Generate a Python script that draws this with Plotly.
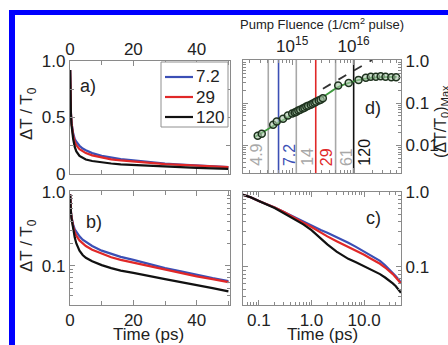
import math
import plotly.graph_objects as go

# ---------------- data ----------------
time_ps = [0.05, 0.07, 0.1, 0.15, 0.2, 0.3, 0.5, 0.7, 1.0, 1.5, 2, 3, 4, 5, 7, 10,
           13, 16, 20, 25, 30, 35, 40, 45, 50]
dt_7p2 = [0.92, 0.85, 0.76, 0.68, 0.62, 0.54, 0.45, 0.40, 0.36, 0.31, 0.285, 0.25,
          0.225, 0.21, 0.185, 0.16, 0.145, 0.132, 0.12, 0.105, 0.093, 0.084, 0.075,
          0.068, 0.062]
dt_29 = [0.92, 0.85, 0.76, 0.68, 0.62, 0.54, 0.45, 0.39, 0.34, 0.285, 0.255, 0.22,
         0.20, 0.185, 0.165, 0.145, 0.13, 0.12, 0.11, 0.098, 0.088, 0.08, 0.072,
         0.066, 0.06]
dt_120 = [0.92, 0.85, 0.76, 0.67, 0.61, 0.52, 0.43, 0.37, 0.31, 0.24, 0.20, 0.16,
          0.14, 0.128, 0.115, 0.102, 0.093, 0.086, 0.08, 0.072, 0.066, 0.06, 0.055,
          0.05, 0.045]
series_names = ["7.2", "29", "120"]
series_values = [dt_7p2, dt_29, dt_120]
series_colors = ["#3b4fb5", "#e02828", "#111111"]

pump_energy = [4.9, 7.2, 14, 29, 61, 120]           # uJ/cm^2
pump_labels = ["4.9", "7.2", "14", "29", "61", "120"]
pump_colors = ["#a8a8a8", "#3b4fb5", "#a8a8a8", "#e02828", "#a8a8a8", "#111111"]
pump_label_side = ["left", "right", "right", "right", "right", "right"]
photons_per_uJ = 1e16 / 120

fluence_pts = [2.75e14, 3.2e14, 4.9e14, 5.6e14, 7.1e14, 8.5e14, 1.0e15, 1.1e15,
               1.17e15, 1.26e15, 1.35e15, 1.48e15, 1.58e15, 1.7e15, 1.82e15, 2.0e15,
               2.14e15, 2.3e15, 2.45e15, 2.7e15, 2.9e15, 3.15e15, 5.6e15, 8.3e15,
               1.2e16, 1.58e16, 1.9e16, 2.3e16, 2.75e16, 3.3e16, 4.1e16, 4.9e16]
peak_pts = [0.017, 0.019, 0.031, 0.037, 0.043, 0.051, 0.057, 0.060, 0.063, 0.067,
            0.070, 0.075, 0.078, 0.083, 0.087, 0.092, 0.097, 0.102, 0.108, 0.115,
            0.120, 0.130, 0.26, 0.30, 0.355, 0.40, 0.42, 0.42, 0.43, 0.42, 0.41, 0.41]
fit_fluence = [2.5e14, 6.3e14, 1.58e15, 3.16e15, 5.6e15, 8.9e15, 1.41e16, 2.5e16, 5.0e16]
fit_peak = [0.016, 0.036, 0.078, 0.14, 0.24, 0.31, 0.37, 0.41, 0.42]
lin_fluence = [3.16e15, 2.0e16]
lin_peak = [0.22, 1.05]

# ---------------- layout helpers ----------------
W, H = 448, 345
def px(x):
    return x / W
def py(y):
    return 1 - y / H

def log_minor(decades):
    return [m * 10.0 ** k for k in decades for m in range(2, 10)]

FONT = "Liberation Sans, Arial, Helvetica, sans-serif"
AX = "#8a8a8a"
TXT = "#222222"
FS = 17

def axis_style(**kw):
    d = dict(showline=True, linecolor=AX, linewidth=1.3, mirror="allticks",
             ticks="inside", ticklen=5, tickcolor=AX, tickwidth=1,
             showgrid=False, zeroline=False, automargin=False,
             tickfont=dict(family=FONT, size=FS, color=TXT))
    d.update(kw)
    return d

def minor(vals=None, ln=3):
    m = dict(ticks="inside", ticklen=ln, tickcolor=AX, tickwidth=1, showgrid=False)
    if vals is not None:
        m["tickmode"] = "array"
        m["tickvals"] = vals
    return m

fig = go.Figure()

# panels a, b, c : decays
for name, vals, col in zip(series_names, series_values, series_colors):
    for xa, ya in (("x", "y"), ("x2", "y2"), ("x3", "y3")):
        fig.add_trace(go.Scatter(x=time_ps, y=vals, mode="lines", name=name,
                                 line=dict(color=col, width=2.2), xaxis=xa, yaxis=ya,
                                 showlegend=False))

# panel d
fig.add_trace(go.Scatter(x=lin_fluence, y=lin_peak, mode="lines",
                         line=dict(color="#333333", width=1.8, dash="dash"),
                         xaxis="x4", yaxis="y4", showlegend=False))
fig.add_trace(go.Scatter(x=fit_fluence, y=fit_peak, mode="lines", line_shape="spline",
                         line=dict(color="#3f9a3f", width=1.8),
                         xaxis="x4", yaxis="y4", showlegend=False))
fig.add_trace(go.Scatter(x=fluence_pts, y=peak_pts, mode="markers",
                         marker=dict(size=7, color="rgba(170,200,170,0.6)",
                                     line=dict(color="#1e321e", width=1.5)),
                         xaxis="x4", yaxis="y4", showlegend=False, cliponaxis=False))

shapes = []
annotations = []
for e, lab, col, side in zip(pump_energy, pump_labels, pump_colors, pump_label_side):
    f = e * photons_per_uJ
    shapes.append(dict(type="line", xref="x4", yref="y4 domain", x0=f, x1=f, y0=0, y1=1,
                       line=dict(color=col, width=1.6), layer="below"))
    annotations.append(dict(xref="x4", yref="paper", x=math.log10(f), y=py(168),
                            text=lab, textangle=-90, showarrow=False,
                            xanchor="left" if side == "right" else "right",
                            yanchor="bottom", xshift=0 if side == "right" else -2,
                            font=dict(family=FONT, size=16, color=col)))

# blue frame
shapes.append(dict(type="rect", xref="paper", yref="paper", x0=px(9), x1=1.0,
                   y0=py(15), y1=py(10), fillcolor="#0000ff", line=dict(width=0),
                   layer="above"))
shapes.append(dict(type="rect", xref="paper", yref="paper", x0=px(9), x1=px(15),
                   y0=0, y1=py(10), fillcolor="#0000ff", line=dict(width=0),
                   layer="above"))

def txt(x, y, s, size=FS, angle=0, color=TXT, xa="center", ya="middle"):
    annotations.append(dict(xref="paper", yref="paper", x=px(x), y=py(y), text=s,
                            textangle=angle, showarrow=False, xanchor=xa, yanchor=ya,
                            font=dict(family=FONT, size=size, color=color)))

# legend of panel a (box, line samples, labels)
shapes.append(dict(type="rect", xref="paper", yref="paper", x0=px(161), x1=px(228),
                   y0=py(127), y1=py(62), fillcolor="white",
                   line=dict(color="#909090", width=1), layer="above"))
for i, (name, col) in enumerate(zip(series_names, series_colors)):
    yy = 77 + 20 * i
    shapes.append(dict(type="line", xref="paper", yref="paper", x0=px(165), x1=px(193),
                       y0=py(yy), y1=py(yy), line=dict(color=col, width=2.2),
                       layer="above"))
    txt(194, yy, name, xa="left")

txt(28, 114, "ΔT / T<sub>0</sub>", angle=-90)
txt(28, 246, "ΔT / T<sub>0</sub>", angle=-90)
txt(148, 334, "Time (ps)")
txt(322, 334, "Time (ps)")
txt(322, 24, "Pump Fluence (1/cm<sup>2</sup> pulse)", size=13)
txt(441, 122, "(ΔT/T<sub>0</sub>)<sub>Max</sub>", size=16, angle=-90)
txt(88, 86, "a)", size=18)
txt(94, 222, "b)", size=18)
txt(373, 218, "c)", size=18)
txt(373, 108, "d)", size=18)

fig.update_layout(
    template="none",
    width=W, height=H, margin=dict(l=0, r=0, t=0, b=0, autoexpand=False),
    paper_bgcolor="white", plot_bgcolor="white",
    font=dict(family=FONT, size=FS, color=TXT),
    showlegend=False,
    shapes=shapes, annotations=annotations,
    xaxis=axis_style(domain=[px(70), px(230)], range=[0, 50.5], side="top",
                     tickvals=[0, 20, 40], anchor="y", ticklabelstandoff=-2,
                     minor=minor(vals=[10, 30, 50], ln=4)),
    yaxis=axis_style(domain=[py(174), py(61)], range=[0, 1.0], anchor="x",
                     tickvals=[0, 0.5, 1.0], ticktext=["0", "0.5", "1.0"],
                     minor=minor(vals=[0.25, 0.75], ln=4)),
    xaxis2=axis_style(domain=[px(70), px(230)], range=[0, 50.5], side="bottom",
                      tickvals=[0, 20, 40], anchor="y2", ticklabelstandoff=-1,
                      minor=minor(vals=[10, 30, 50], ln=4)),
    yaxis2=axis_style(domain=[py(305), py(191)], type="log", range=[-1.53, 0.01],
                      anchor="x2", tickvals=[0.1, 1.0], ticktext=["0.1", "1.0"],
                      minor=minor(vals=log_minor([-2, -1]))),
    xaxis3=axis_style(domain=[px(243), px(401)], type="log", range=[-1.3, 1.7],
                      side="bottom", anchor="y3", tickvals=[0.1, 1, 10],
                      ticktext=["0.1", "1.0", "10.0"], ticklabelstandoff=-1,
                      minor=minor(vals=log_minor([-2, -1, 0, 1]))),
    yaxis3=axis_style(domain=[py(305), py(192)], type="log", range=[-1.51, 0.0],
                      side="right", anchor="x3", tickvals=[0.1, 1.0],
                      ticktext=["0.1", "1.0"],
                      minor=minor(vals=log_minor([-2, -1]))),
    xaxis4=axis_style(domain=[px(243), px(401)], type="log", range=[14.2, 16.77],
                      side="top", anchor="y4", tickvals=[1e15, 1e16],
                      ticktext=["10<sup>15</sup>", "10<sup>16</sup>"],
                      minor=minor(vals=log_minor([14, 15, 16]))),
    yaxis4=axis_style(domain=[py(173), py(60)], type="log", range=[-2.65, 0.02],
                      side="right", anchor="x4", tickvals=[0.01, 0.1, 1.0],
                      ticktext=["0.01", "0.1", "1.0"],
                      minor=minor(vals=log_minor([-3, -2, -1]))),
)

fig.write_html("out.html")
